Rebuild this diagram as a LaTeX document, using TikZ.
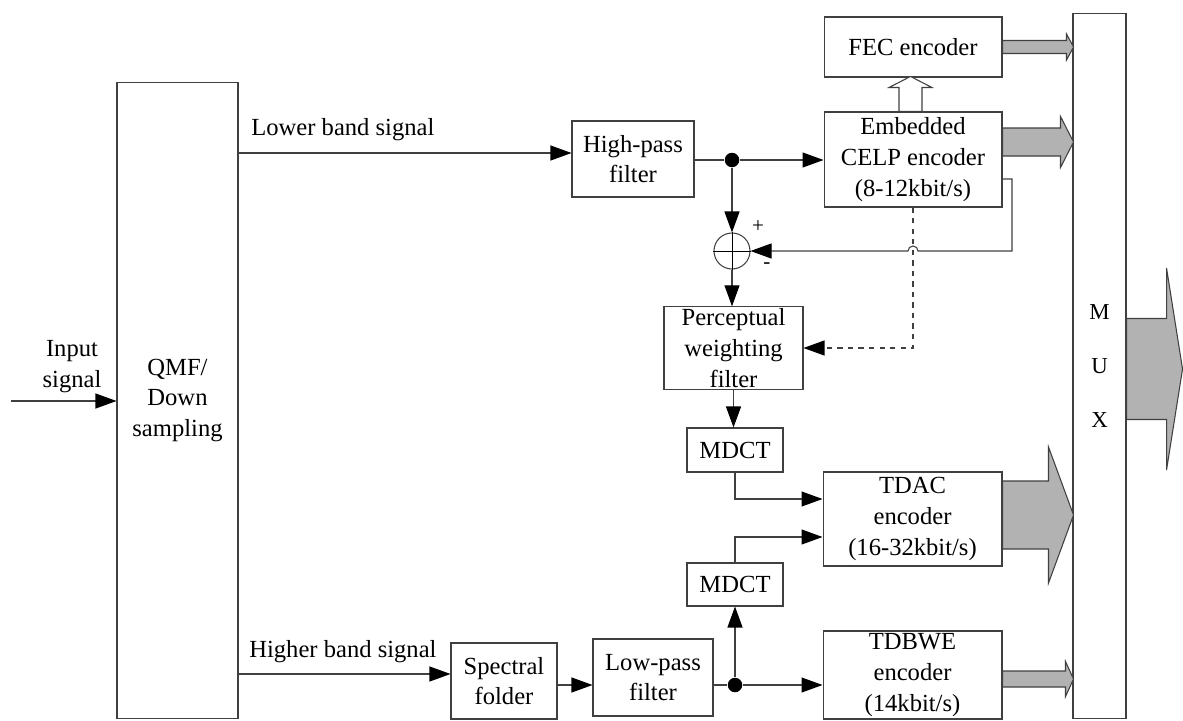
\documentclass[tikz,border=0pt]{standalone}
\usepackage{fontspec}
\setmainfont{Liberation Serif}
\usetikzlibrary{arrows.meta, calc}
\tikzstyle{block} = [
    rectangle,
    draw=black!75,
    line width=0.6pt,
    align=center,
    inner sep=1pt,
    font=\fontsize{14}{17.5}\selectfont
]
\tikzstyle{sigtext} = [
    inner sep=0pt,
    align=center,
    font=\fontsize{14}{17.5}\selectfont
]
\tikzstyle{sign} = [inner sep=0pt, font=\fontsize{12}{14}\selectfont]
\tikzstyle{dot} = [circle, fill=black, inner sep=0pt, minimum size=0.29cm]
\tikzstyle{wire} = [draw=black!75, line width=0.6pt]
\tikzstyle{arrow} = [wire, -{Triangle[length=0.42cm, width=0.3cm, black]}]
\tikzstyle{fat} = [fill=black!30, draw=black!75, line width=0.6pt]
\tikzstyle{hollow} = [fill=white, draw=black!75, line width=0.6pt]
% #1 start, #2 length, #3 head length, #4 shaft half width, #5 head half width
\newcommand{\fatarrow}[5]{%
  \filldraw [fat] ($(#1)+(0,-#4)$) -- ++(#2-#3,0) -- ++(0,#4-#5) -- ++(#3,#5)
    -- ++(-#3,#5) -- ++(0,#4-#5) -- ++(#3-#2,0) -- cycle;}
\begin{document}
\begin{tikzpicture}[x=0.02cm, y=-0.02cm]
\useasboundingbox (0,0) rectangle (1183,720);

\node (qmf) [block, minimum width=2.42cm, minimum height=12.74cm] at (177.5,400.5)
{QMF/\\Down\\sampling};

\node (hpf) [block, minimum width=2.44cm, minimum height=1.52cm] at (633,159)
{High-pass\\filter};

\node (fec) [block, minimum width=3.56cm, minimum height=1.2cm] at (913,47)
{FEC encoder};

\node (celp) [block, minimum width=3.56cm, minimum height=1.9cm] at (913,159.5)
{Embedded\\CELP encoder\\(8-12kbit/s)};

\node (sum) [circle, wire, minimum size=0.72cm, inner sep=0pt] at (732,251) {};

\node (pwf) [block, minimum width=2.78cm, minimum height=1.64cm] at (733.5,348)
{Perceptual\\weighting\\filter};

\node (mdcta) [block, minimum width=1.92cm, minimum height=0.88cm] at (735,450) {MDCT};

\node (tdac) [block, minimum width=3.58cm, minimum height=1.88cm] at (912.5,519)
{TDAC\\encoder\\(16-32kbit/s)};

\node (mdctb) [block, minimum width=1.92cm, minimum height=0.86cm] at (735,584.5) {MDCT};

\node (spf) [block, minimum width=2.12cm, minimum height=1.52cm] at (504,681)
{Spectral\\folder};

\node (lpf) [block, minimum width=2.4cm, minimum height=1.54cm] at (653,677.5)
{Low-pass\\filter};

\node (tdbwe) [block, minimum width=3.58cm, minimum height=1.76cm] at (912.5,675)
{TDBWE\\encoder\\(14kbit/s)};

\node (mux) [block, minimum width=1.06cm, minimum height=14.12cm,
    font=\fontsize{13}{31}\selectfont] at (1099.5,366) {M\\U\\X};

\node (insig) [sigtext] at (72,366.5) {Input\\signal};
\node (lowtxt) [sigtext, anchor=base west] at (251,135) {Lower band signal};
\node (hightxt) [sigtext, anchor=base west] at (249,657) {Higher band signal};
\node (plus) [sign] at (758,227) {+};
\node (minus) [sign] at (767,266) {-};

\node (jn) [dot] at (732,160) {};
\node (jb) [dot] at (735,685) {};
\coordinate (inp) at (11,401);
\coordinate (low) at (238,153);
\coordinate (high) at (238,674);
\coordinate (fbk) at (1012,179);
\coordinate (sl) at ([yshift=-0.08cm]spf.east);
\coordinate (fecin) at ([xshift=-0.05cm]celp.north);
\coordinate (celpout) at ([yshift=0.35cm]celp.east);
\coordinate (tdacout) at ([yshift=0.08cm]tdac.east);
\coordinate (tdbweout) at ([yshift=-0.08cm]tdbwe.east);
\coordinate (muxout) at ([yshift=-0.06cm]mux.east);

\draw (sum.north) -- (sum.south) (sum.west) -- (sum.east);

\draw [arrow] (inp) -- (inp -| qmf.west);
\draw [arrow] (low) -- (low -| hpf.west);
\draw [wire] (jn -| hpf.east) -- (jn);
\draw [arrow] (jn) -- (jn -| celp.west);
\draw [arrow] (jn) -- (sum.north);
\draw [arrow] (sum.south) -- (sum.south |- pwf.north);
\draw [arrow] (fbk -| celp.east) -- (fbk) -- (fbk |- sum.east) -- (918,251)
    arc[start angle=0, end angle=-180, radius=5] -- (sum.east);
\draw [arrow, dashed] (celp.south) -- (celp.south |- pwf.east) -- (pwf.east);
\draw [arrow] (pwf.south) -- (pwf.south |- mdcta.north);
\draw [arrow] (mdcta.south) |- ([yshift=0.4cm]tdac.west);
\draw [arrow] (mdctb.north) |- ([yshift=-0.36cm]tdac.west);
\draw [arrow] (high) -- (high -| spf.west);
\draw [arrow] (sl) -- (sl -| lpf.west);
\draw [wire] (jb -| lpf.east) -- (jb);
\draw [arrow] (jb) -- (mdctb.south);
\draw [arrow] (jb) -- (jb -| tdbwe.west);

\filldraw [hollow] (fecin) ++(-11.5,0) -- ++(0,-24) -- ++(-10,0) -- ++(21.5,-11)
    -- ++(21.5,11) -- ++(-10,0) -- ++(0,24) -- cycle;
\fatarrow{fec.east}{71}{7}{6.5}{13}
\fatarrow{celpout}{71}{13}{14}{25.5}
\fatarrow{tdacout}{71}{25}{34}{68}
\fatarrow{tdbweout}{71}{8}{8}{17.5}
\fatarrow{muxout}{56}{16}{50.5}{101}

\end{tikzpicture}
\end{document}
